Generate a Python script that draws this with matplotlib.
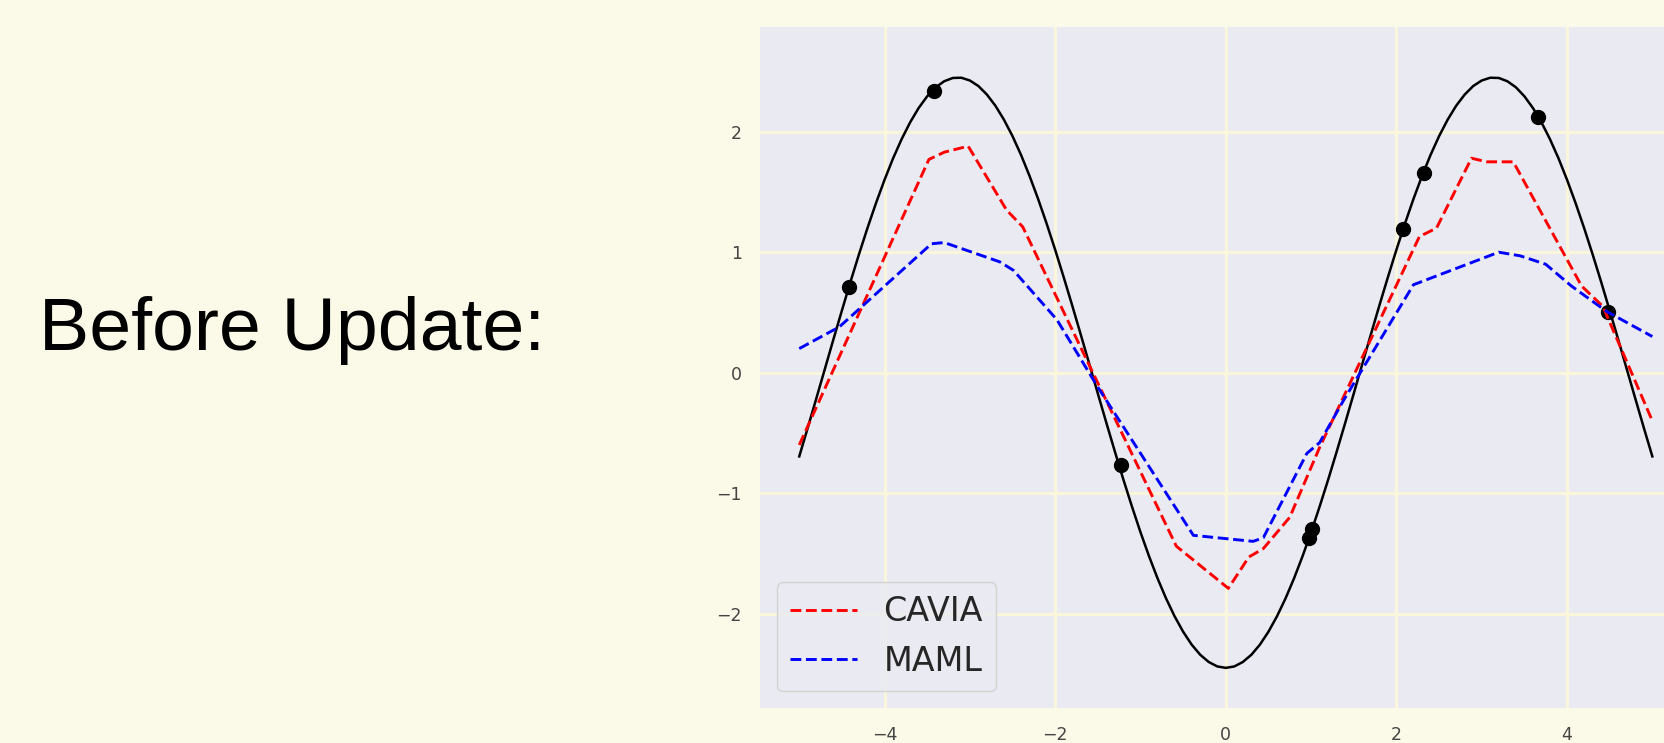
import numpy as np
import matplotlib.pyplot as plt

bg = "#fbfae8"

truth_x = np.linspace(-5, 5, 101)
truth_y = [-0.695, -0.457, -0.214, 0.030, 0.275, 0.516, 0.753, 0.982, 1.201, 1.408,
           1.601, 1.779, 1.938, 2.078, 2.197, 2.294, 2.369, 2.419, 2.446, 2.448,
           2.425, 2.379, 2.308, 2.215, 2.099, 1.963, 1.807, 1.632, 1.442, 1.237,
           1.020, 0.792, 0.557, 0.316, 0.072, -0.173, -0.416, -0.655, -0.888, -1.111,
           -1.324, -1.523, -1.707, -1.874, -2.022, -2.150, -2.257, -2.341, -2.401, -2.438,
           -2.450,
           -2.438, -2.401, -2.341, -2.257, -2.150, -2.022, -1.874, -1.707, -1.523, -1.324,
           -1.111, -0.888, -0.655, -0.416, -0.173, 0.072, 0.316, 0.557, 0.792, 1.020,
           1.237, 1.442, 1.632, 1.807, 1.963, 2.099, 2.215, 2.308, 2.379, 2.425,
           2.448, 2.446, 2.419, 2.369, 2.294, 2.197, 2.078, 1.938, 1.779, 1.601,
           1.408, 1.201, 0.982, 0.753, 0.516, 0.275, 0.030, -0.214, -0.457, -0.695]

# sampled support points
pts_x = [-4.42, -3.42, -1.23, 0.98, 1.01, 2.08, 2.32, 3.66, 4.48]
pts_y = [0.71, 2.34, -0.77, -1.37, -1.30, 1.19, 1.66, 2.12, 0.50]

# model predictions (piecewise linear)
cavia_x = [-5.0, -4.41, -3.48, -3.30, -3.02, -2.57, -2.38, -0.58, 0.03, 0.27, 0.44,
           0.75, 1.10, 2.27, 2.47, 2.88, 3.06, 3.37, 4.17, 4.42, 5.0]
cavia_y = [-0.60, 0.32, 1.77, 1.83, 1.88, 1.35, 1.21, -1.44, -1.79, -1.53, -1.46,
           -1.20, -0.62, 1.13, 1.20, 1.78, 1.75, 1.75, 0.72, 0.55, -0.40]

maml_x = [-5.0, -4.53, -3.45, -3.30, -2.65, -2.49, -1.98, -1.50, -0.38, 0.32, 0.44,
          0.95, 1.10, 1.38, 2.20, 3.20, 3.45, 3.75, 4.05, 4.46, 5.0]
maml_y = [0.20, 0.38, 1.07, 1.08, 0.92, 0.85, 0.44, -0.12, -1.35, -1.40, -1.37,
          -0.67, -0.58, -0.23, 0.73, 1.00, 0.97, 0.90, 0.72, 0.51, 0.30]

fig = plt.figure(figsize=(16.64, 7.43), dpi=100, facecolor=bg)
ax = fig.add_axes([760 / 1664, 35 / 743, 935 / 1664, 681 / 743])
ax.set_facecolor("#eaeaf2")
for s in ax.spines.values():
    s.set_visible(False)

ax.plot(truth_x, truth_y, color="black", lw=1.8)
ax.plot(pts_x, pts_y, "o", color="black", ms=10)
ax.plot(cavia_x, cavia_y, "--", color="red", lw=2.1, label="CAVIA")
ax.plot(maml_x, maml_y, "--", color="blue", lw=2.1, label="MAML")

ax.set_xlim(-5.46, 5.5)
ax.set_ylim(-2.783, 2.869)
ax.set_xticks([-4, -2, 0, 2, 4])
ax.set_yticks([-2, -1, 0, 1, 2])
ax.grid(True, color="#faf6dc", lw=2.3)
ax.set_axisbelow(True)
ax.tick_params(length=0, labelsize=12.5, labelcolor="#444444", pad=13)

leg = ax.legend(loc="lower left", fontsize=24, labelspacing=0.5, borderpad=0.4,
                facecolor="#eaeaf2", edgecolor="#cccccc", framealpha=0.8)
for t in leg.get_texts():
    t.set_color("#262626")

fig.text(39 / 1664, 1 - 350 / 743, "Before Update:", fontsize=54.2,
         family="Liberation Sans", color="black", va="baseline")

fig.savefig("out.png", dpi=100, facecolor=bg)
